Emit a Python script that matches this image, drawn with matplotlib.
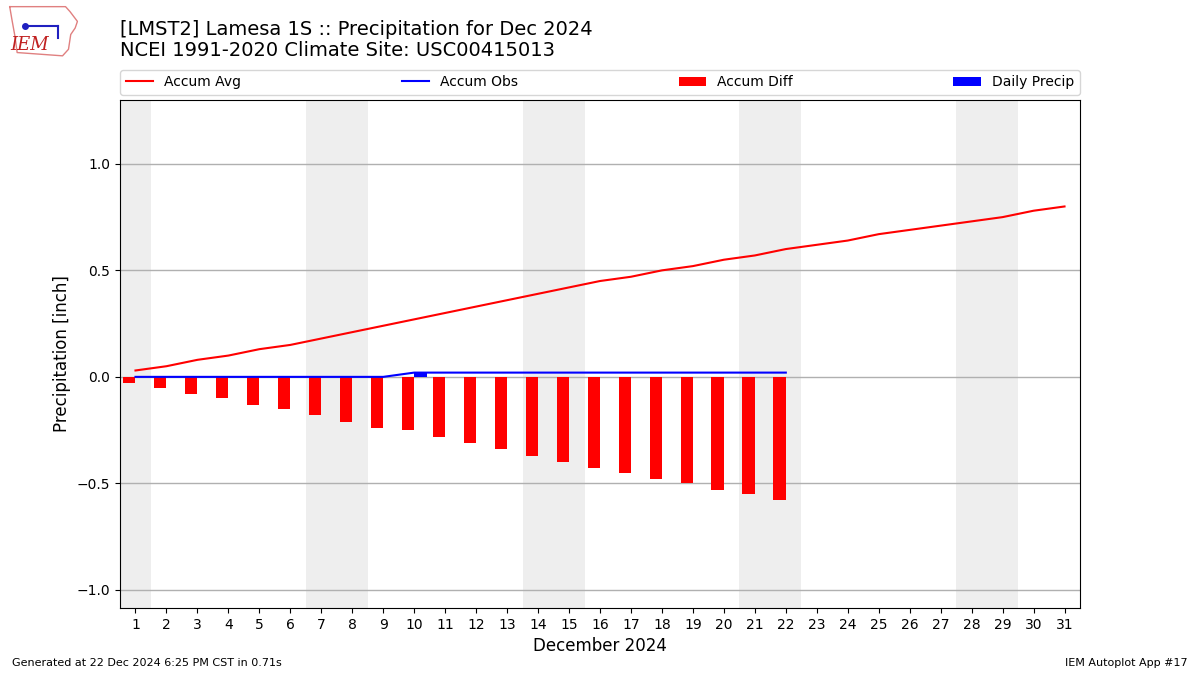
import numpy as np
import matplotlib
matplotlib.use("Agg")
import matplotlib.pyplot as plt

# Data (Lamesa 1S, Dec 2024)
days = list(range(1, 32))
accum_avg = [0.03, 0.05, 0.08, 0.10, 0.13, 0.15, 0.18, 0.21, 0.24, 0.27,
             0.30, 0.33, 0.36, 0.39, 0.42, 0.45, 0.47, 0.50, 0.52, 0.55,
             0.57, 0.60, 0.62, 0.64, 0.67, 0.69, 0.71, 0.73, 0.75, 0.78, 0.80]
obs_days = list(range(1, 23))
accum_obs = [0.0, 0.0, 0.0, 0.0, 0.0, 0.0, 0.0, 0.0, 0.0, 0.02,
             0.02, 0.02, 0.02, 0.02, 0.02, 0.02, 0.02, 0.02, 0.02, 0.02,
             0.02, 0.02]
accum_diff = [-0.03, -0.05, -0.08, -0.10, -0.13, -0.15, -0.18, -0.21, -0.24, -0.25,
              -0.28, -0.31, -0.34, -0.37, -0.40, -0.43, -0.45, -0.48, -0.50, -0.53,
              -0.55, -0.58]
daily_precip = [0.0, 0.0, 0.0, 0.0, 0.0, 0.0, 0.0, 0.0, 0.0, 0.02,
                0.0, 0.0, 0.0, 0.0, 0.0, 0.0, 0.0, 0.0, 0.0, 0.0,
                0.0, 0.0]
weekend_days = [1, 7, 8, 14, 15, 21, 22, 28, 29]

fig = plt.figure(figsize=(12, 6.75), dpi=100)
ax = fig.add_axes([0.1, 0.0993, 0.8, 0.7526])

# weekend shading
for d in weekend_days:
    ax.axvspan(d - 0.5, d + 0.5, color="#eeeeee", lw=0, zorder=0)

ax.plot(days, accum_avg, color="r", lw=1.5, label="Accum Avg", zorder=3)
ax.plot(obs_days, accum_obs, color="b", lw=1.5, label="Accum Obs", zorder=3)
ax.bar(obs_days, accum_diff, width=-0.4, align="edge", color="r",
       label="Accum Diff", zorder=2)
ax.bar(obs_days, daily_precip, width=0.4, align="edge", color="b",
       label="Daily Precip", zorder=2)

ax.set_xlim(0.5, 31.5)
ax.set_ylim(-1.085, 1.3)
ax.set_xticks(days)
ax.set_yticks([-1.0, -0.5, 0.0, 0.5, 1.0])
ax.grid(axis="y", color="#b0b0b0", lw=1)
ax.set_axisbelow(True)
ax.set_xlabel("December 2024", fontsize=12)
ax.set_ylabel("Precipitation [inch]", fontsize=12)

ax.legend(ncol=4, mode="expand", loc="lower left",
          bbox_to_anchor=(0, 1.01, 1, 0.05), borderaxespad=0, fontsize=10)

fig.text(0.1, 0.957, "[LMST2] Lamesa 1S :: Precipitation for Dec 2024",
         fontsize=14, va="center")
fig.text(0.1, 0.925, "NCEI 1991-2020 Climate Site: USC00415013",
         fontsize=14, va="center")

fig.text(0.01, 0.013, "Generated at 22 Dec 2024 6:25 PM CST in 0.71s", fontsize=8)
fig.text(0.99, 0.013, "IEM Autoplot App #17", fontsize=8, ha="right")

# rough IEM logo
logo = fig.add_axes([0.005, 0.91, 0.062, 0.085])
logo.set_xlim(0, 10)
logo.set_ylim(0, 7)
logo.axis("off")
outline_x = [0.5, 8.0, 8.6, 9.6, 9.3, 8.7, 8.4, 7.6, 1.5, 1.2, 0.8, 0.5]
outline_y = [6.6, 6.6, 6.0, 4.8, 4.0, 3.2, 1.4, 0.6, 1.0, 3.0, 5.0, 6.6]
logo.plot(outline_x, outline_y, color="#e08080", lw=1)
logo.plot([2.6, 7.0], [4.2, 4.2], color="#2020c0", lw=1.5)
logo.plot([2.6], [4.2], "o", color="#2020c0", ms=4)
logo.plot([7.0, 7.0], [4.2, 2.8], color="#2020c0", lw=1.5)
logo.text(3.2, 1.9, "IEM", color="#c02020", fontsize=13, family="serif",
          style="italic", ha="center", va="center")

fig.savefig("out.png", dpi=100)
